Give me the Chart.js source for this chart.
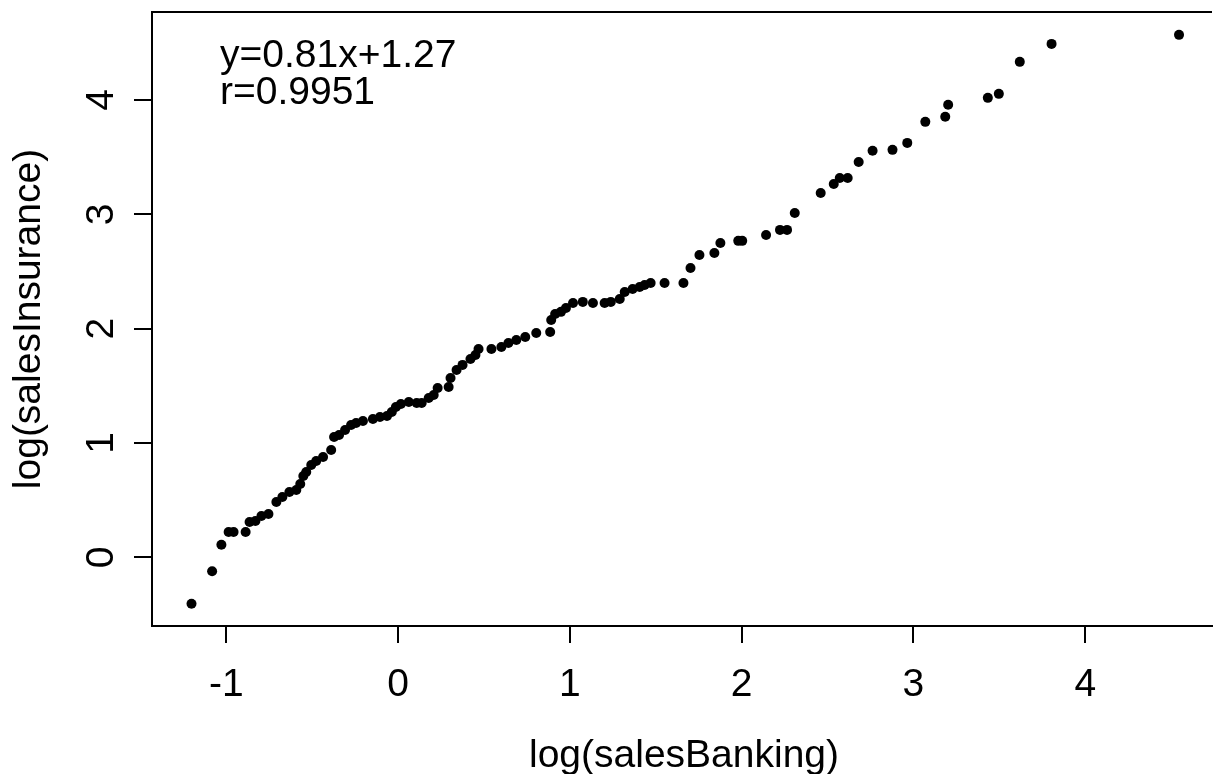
<!DOCTYPE html>
<html>
<head>
<meta charset="utf-8">
<script src="https://cdn.jsdelivr.net/npm/chart.js@4"></script>
<style>
  html, body { margin: 0; padding: 0; background: #fff; overflow: hidden; }
  #wrap { width: 1217px; height: 774px; position: relative; }
</style>
</head>
<body>
<div id="wrap"><canvas id="c"></canvas></div>
<script>
// log(salesBanking) vs log(salesInsurance)
const xs = [
  -1.203, -1.083, -1.029, -0.987, -0.958, -0.888, -0.865, -0.831, -0.796, -0.755,
  -0.709, -0.674, -0.633, -0.593, -0.570, -0.552, -0.535, -0.506, -0.477, -0.437,
  -0.390, -0.373, -0.344, -0.309, -0.274, -0.245, -0.205, -0.147, -0.106, -0.065,
  -0.037, -0.013, 0.016, 0.062, 0.108, 0.137, 0.178, 0.207, 0.230, 0.294,
  0.305, 0.340, 0.375, 0.421, 0.450, 0.468, 0.543, 0.601, 0.642, 0.688,
  0.740, 0.804, 0.885, 0.891, 0.914, 0.948, 0.977, 1.018, 1.075, 1.134,
  1.202, 1.238, 1.290, 1.319, 1.365, 1.406, 1.435, 1.470, 1.551, 1.661,
  1.702, 1.754, 1.841, 1.876, 1.980, 2.003, 2.142, 2.223, 2.264, 2.309,
  2.460, 2.536, 2.571, 2.617, 2.681, 2.762, 2.878, 2.964, 3.069, 3.185,
  3.202, 3.433, 3.497, 3.619, 3.804, 4.546
];
const ys = [
  -0.406, -0.122, 0.110, 0.221, 0.221, 0.221, 0.309, 0.318, 0.361, 0.379,
  0.484, 0.527, 0.571, 0.589, 0.641, 0.711, 0.746, 0.808, 0.843, 0.877,
  0.939, 1.052, 1.070, 1.114, 1.157, 1.175, 1.192, 1.210, 1.227, 1.236,
  1.271, 1.315, 1.341, 1.359, 1.350, 1.350, 1.394, 1.420, 1.481, 1.490,
  1.569, 1.639, 1.683, 1.735, 1.770, 1.822, 1.822, 1.840, 1.875, 1.901,
  1.927, 1.962, 1.971, 2.076, 2.129, 2.147, 2.181, 2.225, 2.234, 2.225,
  2.225, 2.234, 2.260, 2.321, 2.347, 2.365, 2.382, 2.400, 2.400, 2.400,
  2.531, 2.645, 2.662, 2.750, 2.768, 2.768, 2.820, 2.864, 2.864, 3.012,
  3.187, 3.266, 3.318, 3.318, 3.458, 3.556, 3.564, 3.625, 3.809, 3.853,
  3.958, 4.019, 4.054, 4.334, 4.491, 4.570
];
const xTicks = [-1, 0, 1, 2, 3, 4];
const yTicks = [0, 1, 2, 3, 4];
const xTitle = 'log(salesBanking)';
const yTitle = 'log(salesInsurance)';
const notes = ['y=0.81x+1.27', 'r=0.9951'];

const FONT = '39px "Liberation Sans", Arial, sans-serif';

// R-style text: tick labels, axis titles, fit annotation, top edge of the box
const rText = {
  id: 'rText',
  afterDraw(chart) {
    const ctx = chart.ctx;
    const xs_ = chart.scales.x;
    const ys_ = chart.scales.y;
    const area = chart.chartArea;
    ctx.save();
    ctx.fillStyle = '#000';
    ctx.strokeStyle = '#000';
    ctx.font = FONT;

    ctx.lineWidth = 2;
    ctx.beginPath();
    ctx.moveTo(area.left - 1, area.top);
    ctx.lineTo(area.right, area.top);
    ctx.stroke();

    ctx.textAlign = 'center';
    ctx.textBaseline = 'alphabetic';
    xTicks.forEach(v => {
      ctx.fillText(String(v), xs_.getPixelForValue(v), 696);
    });
    ctx.fillText(xTitle, (area.left + area.right) / 2 + 2, 767);

    yTicks.forEach(v => {
      ctx.save();
      ctx.translate(113, ys_.getPixelForValue(v));
      ctx.rotate(-Math.PI / 2);
      ctx.fillText(String(v), 0, 0);
      ctx.restore();
    });
    ctx.save();
    ctx.translate(40, (area.top + area.bottom) / 2);
    ctx.rotate(-Math.PI / 2);
    ctx.fillText(yTitle, 0, 0);
    ctx.restore();

    ctx.textAlign = 'left';
    ctx.fillText(notes[0], 220, 67);
    ctx.fillText(notes[1], 220, 104);
    ctx.restore();
  }
};

const ctx = document.getElementById('c').getContext('2d');
new Chart(ctx, {
  type: 'scatter',
  data: {
    datasets: [{
      data: xs.map((x, i) => ({ x: x, y: ys[i] })),
      pointRadius: 5,
      pointBorderWidth: 0,
      pointBackgroundColor: '#000',
      pointHoverRadius: 5
    }]
  },
  options: {
    responsive: true,
    maintainAspectRatio: false,
    animation: false,
    events: [],
    layout: { padding: { top: 12, left: 0, right: 0, bottom: 0 } },
    plugins: {
      legend: { display: false },
      tooltip: { enabled: false }
    },
    scales: {
      x: {
        type: 'linear',
        min: -1.433,
        max: 4.738,
        afterBuildTicks: s => { s.ticks = xTicks.map(v => ({ value: v })); },
        afterFit: s => { s.height = 148; },
        ticks: { display: false },
        grid: { drawOnChartArea: false, drawTicks: true, tickLength: 17, color: '#000', lineWidth: 2 },
        border: { display: true, color: '#000', width: 2 }
      },
      y: {
        type: 'linear',
        min: -0.601,
        max: 4.77,
        afterBuildTicks: s => { s.ticks = yTicks.map(v => ({ value: v })); },
        afterFit: s => { s.width = 152; },
        ticks: { display: false },
        grid: { drawOnChartArea: false, drawTicks: true, tickLength: 18, color: '#000', lineWidth: 2 },
        border: { display: true, color: '#000', width: 2 }
      }
    }
  },
  plugins: [rText]
});
</script>
</body>
</html>
